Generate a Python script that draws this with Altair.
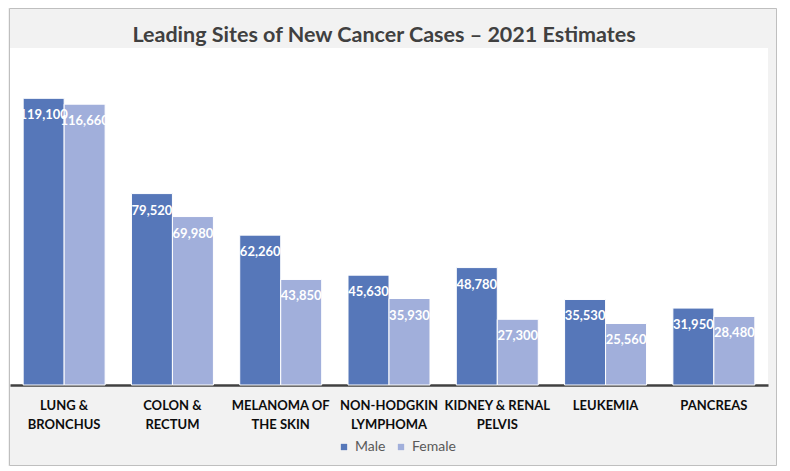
import altair as alt
import pandas as pd

categories = ["LUNG &|BRONCHUS", "COLON &|RECTUM", "MELANOMA OF|THE SKIN",
              "NON-HODGKIN|LYMPHOMA", "KIDNEY & RENAL|PELVIS", "LEUKEMIA", "PANCREAS"]
male = [119100, 79520, 62260, 45630, 48780, 35530, 31950]
female = [116660, 69980, 43850, 35930, 27300, 25560, 28480]
series = ["Male", "Female"]
colors = ["#5677B9", "#A1AFDB"]
title_text = "Leading Sites of New Cancer Cases – 2021 Estimates"

rows = []
for c, m, f in zip(categories, male, female):
    rows.append({"site": c, "sex": "Male", "cases": m})
    rows.append({"site": c, "sex": "Female", "cases": f})
df = pd.DataFrame(rows)

W, H = 758, 337
FONT = "Lato"

x = alt.X("site:N", sort=categories,
          scale=alt.Scale(paddingInner=0.243, paddingOuter=0.1215),
          axis=alt.Axis(title=None, labelAngle=0, labelExpr="split(datum.label, '|')",
                        labelFont=FONT, labelFontWeight="bold", labelFontSize=13,
                        labelColor="#0D0D0D", labelLineHeight=19, labelPadding=14,
                        ticks=False, domainColor="#404040", domainWidth=2.5,
                        labelLimit=200))
xoff = alt.XOffset("sex:N", sort=series, scale=alt.Scale(paddingInner=0, paddingOuter=0))
y = alt.Y("cases:Q", scale=alt.Scale(domain=[0, 140000]), axis=None)
color = alt.Color("sex:N", sort=series,
                  scale=alt.Scale(domain=series, range=colors),
                  legend=alt.Legend(title=None, orient="none", direction="horizontal",
                                    legendX=327, legendY=392, symbolType="square",
                                    symbolSize=40, labelFont=FONT, labelFontSize=14,
                                    labelColor="#595959", symbolStrokeWidth=0,
                                    columnPadding=8, labelOffset=4))

base = alt.Chart(df)
bars = base.mark_bar(stroke="white", strokeWidth=1).encode(x=x, xOffset=xoff, y=y, color=color)
labels = base.mark_text(baseline="top", dy=11, color="white", font=FONT,
                        fontWeight="bold", fontSize=13).encode(
    x=x, xOffset=xoff, y=y, text=alt.Text("cases:Q", format=","))

border = alt.Chart(pd.DataFrame({"k": [0]})).mark_rect(
    fillOpacity=0, stroke="#BFBFBF", strokeWidth=1).encode(
    x=alt.value(-0.5), x2=alt.value(766.5), y=alt.value(-39.5), y2=alt.value(417.5))

title = alt.Chart(pd.DataFrame({"t": [title_text]})).mark_text(
    font=FONT, fontSize=21.5, fontWeight="bold", color="#404040",
    baseline="alphabetic", align="center").encode(
    text="t:N", x=alt.value(374), y=alt.value(-6))

chart = alt.layer(border, bars, labels, title).properties(
    width=W, height=H,
    padding={"left": 2, "top": 40, "right": 9, "bottom": 81},
    autosize=alt.AutoSizeParams(type="none"),
    background="#F2F2F2",
).configure_view(fill="white", strokeWidth=0)

chart.save("out.html", embed_options={"renderer": "svg", "actions": False})
